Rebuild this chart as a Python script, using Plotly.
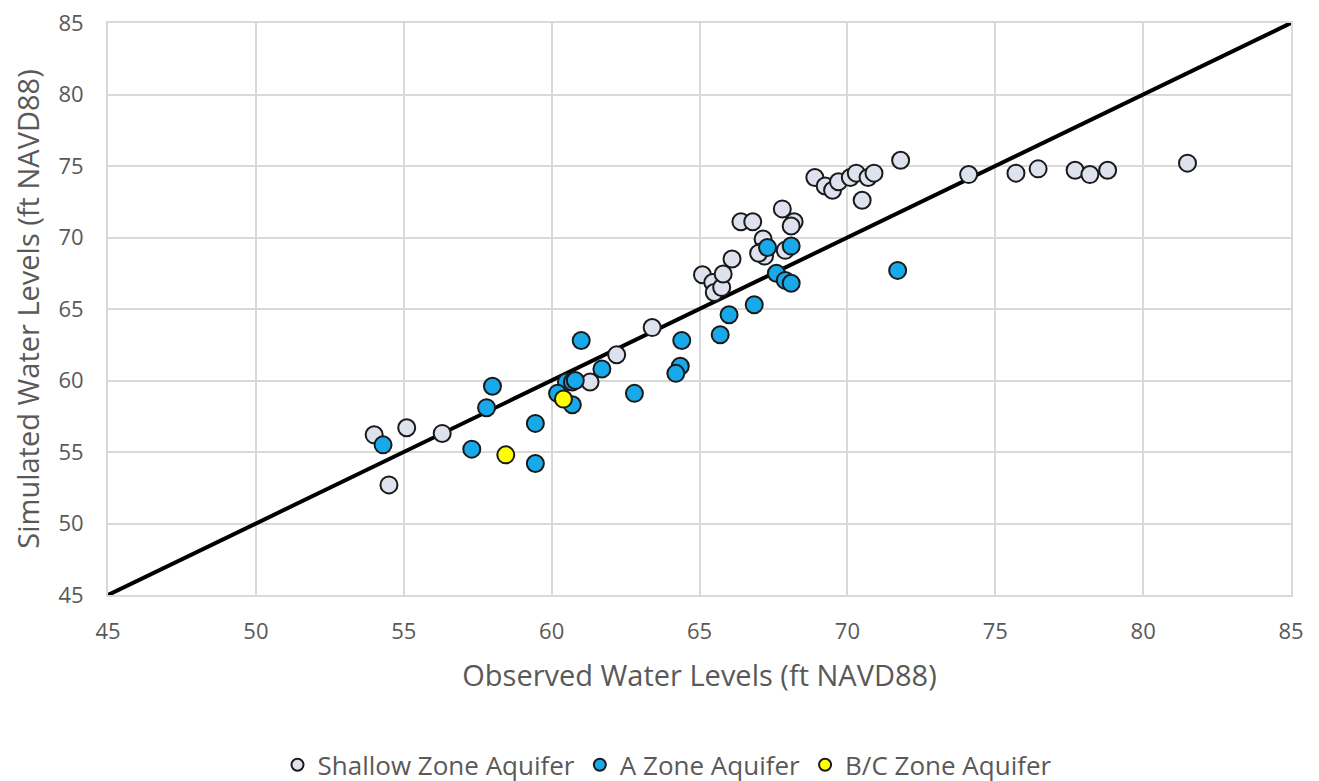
import plotly.graph_objects as go

shallow_x = [54.0, 55.1, 56.3, 54.5, 61.3, 62.2, 63.4, 65.1, 65.45, 65.5, 65.75, 65.8, 66.1,
             66.4, 66.8, 67.15, 67.1, 67.2, 67.0, 67.8, 68.2, 68.1, 67.9, 68.9, 69.25, 69.5,
             69.7, 70.1, 70.3, 70.7, 70.9, 70.5, 71.8, 74.1, 75.7, 76.45, 77.7, 78.2, 78.8, 81.5]
shallow_y = [56.2, 56.7, 56.3, 52.7, 59.9, 61.8, 63.7, 67.4, 66.85, 66.15, 66.5, 67.45, 68.5,
             71.1, 71.1, 69.9, 69.0, 68.7, 68.9, 72.0, 71.1, 70.8, 69.1, 74.2, 73.6, 73.3,
             73.9, 74.2, 74.5, 74.2, 74.5, 72.6, 75.4, 74.4, 74.5, 74.8, 74.7, 74.4, 74.7, 75.2]

a_x = [54.3, 57.3, 59.45, 59.45, 57.8, 58.0, 60.7, 60.5, 60.7, 60.8, 60.2, 61.0, 61.7, 62.8,
       64.4, 64.35, 64.2, 67.3, 68.1, 67.6, 67.9, 68.1, 66.85, 66.0, 65.7, 71.7]
a_y = [55.5, 55.2, 54.2, 57.0, 58.1, 59.6, 58.3, 59.9, 59.9, 60.0, 59.1, 62.8, 60.8, 59.1,
       62.8, 61.0, 60.5, 69.3, 69.4, 67.5, 67.0, 66.8, 65.3, 64.6, 63.2, 67.7]

bc_x = [58.45, 60.4]
bc_y = [54.8, 58.7]

line_xy = [45, 85]
ticks = [45, 50, 55, 60, 65, 70, 75, 80, 85]

font = "Open Sans"
grey = "#595959"

fig = go.Figure()
fig.add_trace(go.Scatter(x=line_xy, y=line_xy, mode="lines",
                         line=dict(color="black", width=4), showlegend=False, hoverinfo="skip"))

def add(xs, ys, name, color):
    fig.add_trace(go.Scatter(x=xs, y=ys, mode="markers", name=name,
                             marker=dict(size=17, color=color,
                                         line=dict(color="#1a1a1a", width=2))))

add(shallow_x, shallow_y, "Shallow Zone Aquifer", "#dee1ee")
add(a_x, a_y, "A Zone Aquifer", "#17a9e9")
add(bc_x, bc_y, "B/C Zone Aquifer", "#ffff00")

axis_common = dict(range=[45, 85], tickvals=ticks, showgrid=True, gridcolor="#d9d9d9",
                   gridwidth=2, zeroline=False, showline=True, linecolor="#d9d9d9",
                   linewidth=2, mirror=True, ticks="outside", tickcolor="rgba(0,0,0,0)",
                   automargin=False, ticklabeloverflow="allow",
                   tickfont=dict(family=font, size=22, color=grey))

fig.update_layout(
    width=1319, height=781,
    paper_bgcolor="white", plot_bgcolor="white",
    margin=dict(l=100, r=36, t=15, b=194),
    xaxis=dict(**axis_common, ticklen=16,
               title=dict(text="Observed Water Levels (ft NAVD88)",
                          font=dict(family=font, size=29, color=grey), standoff=21)),
    yaxis=dict(**axis_common, ticklen=18,
               title=dict(text="Simulated Water Levels (ft NAVD88)",
                          font=dict(family=font, size=29, color=grey), standoff=21)),
    legend=dict(orientation="h", x=0.5, xanchor="center", xref="container",
                y=0.031, yanchor="middle", yref="container",
                font=dict(family=font, size=26, color=grey), itemsizing="constant"),
    font=dict(family=font),
)

fig.write_html("out.html")
